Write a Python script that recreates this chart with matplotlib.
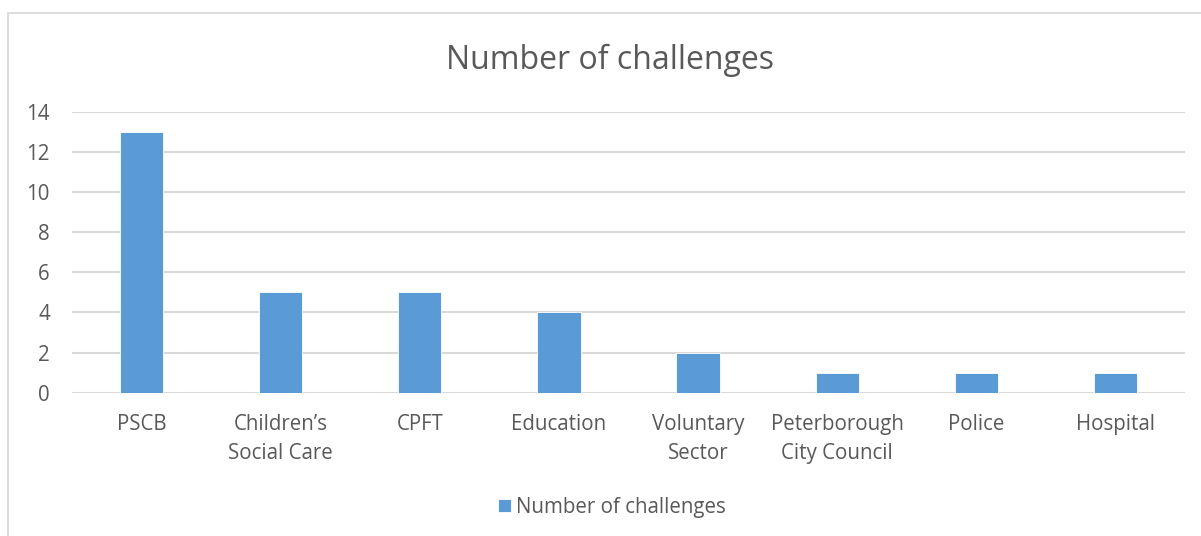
import matplotlib as mpl
mpl.use('Agg')
import matplotlib.pyplot as plt
from matplotlib.patches import Rectangle

agencies = ['PSCB', 'Children\u2019s\nSocial Care', 'CPFT', 'Education',
            'Voluntary\nSector', 'Peterborough\nCity Council', 'Police', 'Hospital']
challenges = [13, 5, 5, 4, 2, 1, 1, 1]
yticks = [0, 2, 4, 6, 8, 10, 12, 14]

bar_color = '#5B9BD5'
text_color = '#595959'
grid_color = '#D9D9D9'

plt.rcParams['font.family'] = ['Open Sans', 'DejaVu Sans']

fig = plt.figure(figsize=(12.01, 5.36), dpi=100)

# chart frame
fig.patches.append(Rectangle((8 / 1201, -0.01), 1.2, 1 - 12.5 / 536 + 0.01,
                             transform=fig.transFigure, fill=False,
                             edgecolor=grid_color, linewidth=1.3))

ax = fig.add_axes([72 / 1201, 143.3 / 536, 1113 / 1201, 281.2 / 536])
xs = list(range(len(agencies)))
ax.bar(xs, challenges, width=0.31, color=bar_color, edgecolor='white',
       linewidth=0.6, label='Number of challenges', zorder=3)
ax.set_xlim(-0.5, len(agencies) - 0.5)
ax.set_ylim(0, 14)
ax.set_yticks(yticks)
ax.set_xticks(xs)
ax.set_xticklabels(agencies, linespacing=1.5)
ax.grid(axis='y', color=grid_color, linewidth=1.5, zorder=0)
for s in ax.spines.values():
    s.set_visible(False)
ax.tick_params(axis='both', length=0, labelsize=14.8, colors=text_color)
ax.tick_params(axis='x', pad=15.5)
ax.tick_params(axis='y', pad=16)

fig.text(0.508, 1 - 60 / 536, 'Number of challenges', ha='center', va='center',
         fontsize=23, color=text_color)

leg = ax.legend(loc='center', frameon=False, fontsize=14.8,
                labelcolor=text_color, handlelength=0.62, handleheight=0.62,
                handletextpad=0.25)
leg.set_bbox_to_anchor((612 / 1201, 1 - 507 / 536), transform=fig.transFigure)

plt.savefig('out.png', dpi=100)
